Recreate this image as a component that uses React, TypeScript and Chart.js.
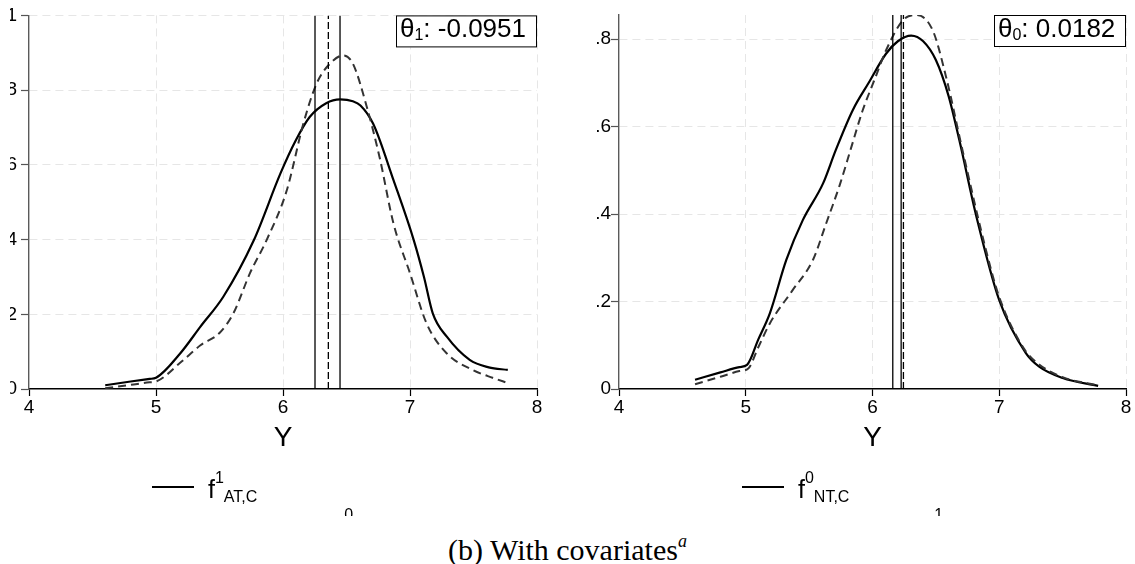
import React, { useEffect, useRef } from "react";
import { Chart, registerables } from "chart.js";

Chart.register(...registerables);
Chart.defaults.font.family = "'Liberation Sans', Arial, Helvetica, sans-serif";

// ---------- data ----------
const xTicks = [4, 5, 6, 7, 8];
const leftYTicks = [0, 0.2, 0.4, 0.6, 0.8, 1];
const rightYTicks = [0, 0.2, 0.4, 0.6, 0.8];
const leftYMax = 1;
const rightYMax = 0.855;

// left panel: solid f^1_{AT,C}, dashed comparison density
const leftSolidX = [4.6, 4.8, 4.95, 5.0, 5.19, 5.35, 5.53, 5.77, 5.98, 6.1, 6.21, 6.34, 6.45, 6.55, 6.61, 6.71, 6.87, 7.03, 7.11, 7.18, 7.29, 7.47, 7.62, 7.77];
const leftSolidY = [0.01, 0.02, 0.027, 0.03, 0.095, 0.167, 0.247, 0.398, 0.577, 0.665, 0.728, 0.765, 0.775, 0.77, 0.759, 0.71, 0.559, 0.398, 0.3, 0.202, 0.14, 0.078, 0.058, 0.051];
const leftDashX = [4.6, 4.8, 4.95, 5.0, 5.19, 5.35, 5.5, 5.61, 5.74, 5.87, 6.03, 6.16, 6.265, 6.37, 6.475, 6.55, 6.66, 6.76, 6.87, 7.0, 7.13, 7.29, 7.5, 7.65, 7.77];
const leftDashY = [0.002, 0.011, 0.018, 0.02, 0.07, 0.117, 0.15, 0.203, 0.31, 0.398, 0.532, 0.71, 0.818, 0.871, 0.893, 0.871, 0.755, 0.621, 0.443, 0.31, 0.176, 0.095, 0.05, 0.03, 0.016];
const leftVSolid = [6.252, 6.449];
const leftVDashed = [6.357];
const leftTheta = -0.0951;

// right panel: solid f^0_{NT,C}, dashed comparison density
const rightSolidX = [4.6, 4.8, 4.95, 5.01, 5.1, 5.19, 5.32, 5.45, 5.61, 5.71, 5.845, 5.97, 6.108, 6.2, 6.305, 6.4, 6.5, 6.6, 6.685, 6.82, 7.0, 7.21, 7.315, 7.5, 7.78];
const rightSolidY = [0.021, 0.038, 0.05, 0.055, 0.114, 0.173, 0.295, 0.386, 0.47, 0.546, 0.638, 0.7, 0.767, 0.795, 0.808, 0.795, 0.752, 0.67, 0.569, 0.394, 0.203, 0.082, 0.051, 0.025, 0.007];
const rightDashX = [4.6, 4.8, 4.95, 5.02, 5.1, 5.19, 5.37, 5.53, 5.635, 5.74, 5.83, 5.92, 6.02, 6.108, 6.24, 6.344, 6.475, 6.58, 6.71, 6.895, 7.0, 7.2, 7.32, 7.5, 7.78];
const rightDashY = [0.011, 0.028, 0.041, 0.047, 0.096, 0.15, 0.226, 0.295, 0.379, 0.465, 0.55, 0.635, 0.71, 0.775, 0.843, 0.855, 0.82, 0.714, 0.546, 0.318, 0.21, 0.09, 0.055, 0.027, 0.008];
const rightVSolid = [6.16, 6.226];
const rightVDashed = [6.244];
const rightTheta = 0.0182;

const xTitle = "Y";
const leftThetaSub = "1";
const rightThetaSub = "0";
const leftLegend = { sup: "1", sub: "AT,C" };
const leftLegend2 = { prefix: "reweighted f", sup: "0", sub: "AT,C" };
const rightLegend = { sup: "0", sub: "NT,C" };
const rightLegend2 = { prefix: "reweighted f", sup: "1", sub: "NT,C" };
const caption = "(b) With covariates";
const captionNote = "a";

// ---------- helpers ----------
const FONT = "'Liberation Sans', Arial, Helvetica, sans-serif";
const pts = (xs: number[], ys: number[]) => xs.map((x, i) => ({ x, y: ys[i] }));
const fmtY = (v: number) => (v === 0 ? "0" : v === 1 ? "1" : String(v).replace(/^0/, ""));

type PanelProps = {
  left: number;
  width: number;
  height: number;
  yAxisWidth: number;
  padRight: number;
  tickPad: number;
  solidX: number[];
  solidY: number[];
  dashX: number[];
  dashY: number[];
  vSolid: number[];
  vDashed: number[];
  yMax: number;
  yTicks: number[];
  theta: number;
  thetaSub: string;
  legend: { sup: string; sub: string };
  legend2: { prefix: string; sup: string; sub: string };
};

function Panel(p: PanelProps) {
  const ref = useRef<HTMLCanvasElement | null>(null);
  useEffect(() => {
    if (!ref.current) return;
    const vl = (x: number) => [{ x, y: 0 }, { x, y: p.yMax }];
    const overlay = {
      id: "overlay",
      afterDraw(chart: any) {
        const { ctx, chartArea: a } = chart;
        ctx.save();
        ctx.textAlign = "left";
        ctx.textBaseline = "alphabetic";
        ctx.setLineDash([]);
        // theta annotation box
        const big = `26px ${FONT}`;
        const small = `16px ${FONT}`;
        ctx.font = big;
        const w1 = ctx.measureText("θ").width;
        const rest = ": " + p.theta.toFixed(4);
        const w3 = ctx.measureText(rest).width;
        ctx.font = small;
        const w2 = ctx.measureText(p.thetaSub).width;
        const boxW = Math.round(w1 + w2 + w3 + 15);
        const boxH = 32;
        const bx = a.right - boxW;
        const by = a.top;
        ctx.fillStyle = "#fff";
        ctx.fillRect(bx, by, boxW, boxH);
        ctx.strokeStyle = "#000";
        ctx.lineWidth = 1;
        ctx.strokeRect(bx + 0.5, by + 0.5, boxW - 1, boxH - 1);
        ctx.fillStyle = "#000";
        let tx = bx + 4;
        const base = by + 22;
        ctx.font = big;
        ctx.fillText("θ", tx, base);
        tx += w1;
        ctx.font = small;
        ctx.fillText(p.thetaSub, tx, base + 3);
        tx += w2;
        ctx.font = big;
        ctx.fillText(rest, tx, base);

        // x axis title
        ctx.font = `28px ${FONT}`;
        ctx.textAlign = "center";
        ctx.fillText(xTitle, (a.left + a.right) / 2, a.bottom + 57);
        ctx.textAlign = "left";

        // legend
        const drawEntry = (x: number, baseline: number, prefix: string, sup: string, sub: string) => {
          const fBig = `25px ${FONT}`;
          const fSmall = `16px ${FONT}`;
          ctx.font = fBig;
          ctx.fillText(prefix, x, baseline);
          let cx = x + ctx.measureText(prefix).width;
          ctx.font = fSmall;
          ctx.fillText(sup, cx, baseline - 15);
          cx += ctx.measureText(sup).width;
          ctx.fillText(sub, cx, baseline + 4);
        };
        const lx = a.left + 123;
        const ly = 487;
        ctx.strokeStyle = "#000";
        ctx.lineWidth = 2;
        ctx.beginPath();
        ctx.moveTo(lx, ly);
        ctx.lineTo(lx + 42, ly);
        ctx.stroke();
        drawEntry(lx + 56, 498, "f", p.legend.sup, p.legend.sub);
        // second legend row (cut by the picture's lower edge)
        ctx.strokeStyle = "#333";
        ctx.setLineDash([8, 5]);
        ctx.beginPath();
        ctx.moveTo(lx, ly + 36);
        ctx.lineTo(lx + 42, ly + 36);
        ctx.stroke();
        ctx.setLineDash([]);
        drawEntry(lx + 56, 535, p.legend2.prefix, p.legend2.sup, p.legend2.sub);
        ctx.restore();
      },
    };
    const gridColor = (c: any) =>
      c.tick && c.tick.value === (c.scale.axis === "x" ? 4 : 0) ? "rgba(0,0,0,0)" : "#e6e6e6";
    const chart = new Chart(ref.current, {
      type: "scatter",
      data: {
        datasets: [
          ...p.vSolid.map((x) => ({
            data: vl(x),
            borderColor: "#000",
            borderWidth: 1.3,
            showLine: true,
            pointRadius: 0,
            tension: 0,
          })),
          ...p.vDashed.map((x) => ({
            data: vl(x),
            borderColor: "#000",
            borderWidth: 1.3,
            borderDash: [7, 3],
            showLine: true,
            pointRadius: 0,
            tension: 0,
          })),
          {
            data: pts(p.dashX, p.dashY),
            borderColor: "#333",
            borderWidth: 2,
            borderDash: [8, 5],
            showLine: true,
            pointRadius: 0,
            cubicInterpolationMode: "monotone",
          },
          {
            data: pts(p.solidX, p.solidY),
            borderColor: "#000",
            borderWidth: 2.2,
            showLine: true,
            pointRadius: 0,
            cubicInterpolationMode: "monotone",
          },
        ] as any,
      },
      options: {
        animation: false,
        responsive: false,
        devicePixelRatio: 1,
        layout: { padding: { left: 0, right: p.padRight, top: 15, bottom: p.height - 389 - 30 } },
        plugins: { legend: { display: false }, tooltip: { enabled: false } },
        scales: {
          x: {
            type: "linear",
            min: 4,
            max: 8,
            afterBuildTicks: (s: any) => {
              s.ticks = xTicks.map((v) => ({ value: v }));
            },
            afterFit: (s: any) => {
              s.height = 30;
            },
            grid: { color: gridColor, lineWidth: 1, tickLength: 7, tickColor: "#000", tickWidth: 1.2 },
            border: { color: "#000", width: 1.4, dash: [8, 5] },
            ticks: { color: "#000", font: { size: 19 }, padding: 0, maxRotation: 0, callback: (v: any) => String(v) },
          },
          y: {
            type: "linear",
            min: 0,
            max: p.yMax,
            afterBuildTicks: (s: any) => {
              s.ticks = p.yTicks.map((v) => ({ value: v }));
            },
            afterFit: (s: any) => {
              s.width = p.yAxisWidth;
            },
            grid: { color: gridColor, lineWidth: 1, tickLength: 8, tickColor: "#555", tickWidth: 1.2 },
            border: { color: "#5a5a5a", width: 1.4, dash: [8, 5] },
            ticks: { color: "#000", font: { size: 19 }, padding: p.tickPad, callback: (v: any) => fmtY(v) },
          },
        },
      } as any,
      plugins: [overlay],
    });
    return () => chart.destroy();
  }, []);
  return (
    <canvas
      ref={ref}
      width={p.width}
      height={p.height}
      style={{ position: "absolute", left: p.left, top: 0, width: p.width, height: p.height }}
    />
  );
}

export default function App() {
  return (
    <div
      style={{
        position: "fixed",
        left: 0,
        top: 0,
        width: 1135,
        height: 564,
        background: "#fff",
        overflow: "hidden",
      }}
    >
      <Panel
        left={10}
        width={550}
        height={516}
        yAxisWidth={19}
        padRight={23}
        tickPad={4}
        solidX={leftSolidX}
        solidY={leftSolidY}
        dashX={leftDashX}
        dashY={leftDashY}
        vSolid={leftVSolid}
        vDashed={leftVDashed}
        yMax={leftYMax}
        yTicks={leftYTicks}
        theta={leftTheta}
        thetaSub={leftThetaSub}
        legend={leftLegend}
        legend2={leftLegend2}
      />
      <Panel
        left={560}
        width={575}
        height={516}
        yAxisWidth={59}
        padRight={9}
        tickPad={0}
        solidX={rightSolidX}
        solidY={rightSolidY}
        dashX={rightDashX}
        dashY={rightDashY}
        vSolid={rightVSolid}
        vDashed={rightVDashed}
        yMax={rightYMax}
        yTicks={rightYTicks}
        theta={rightTheta}
        thetaSub={rightThetaSub}
        legend={rightLegend}
        legend2={rightLegend2}
      />
      <div
        style={{
          position: "absolute",
          left: 0,
          top: 535,
          width: 1135,
          textAlign: "center",
          fontFamily: "'Liberation Serif', 'Times New Roman', serif",
          fontSize: 30,
          lineHeight: "30px",
          color: "#000",
          whiteSpace: "nowrap",
        }}
      >
        {caption}
        <span style={{ fontSize: 18, fontStyle: "italic", position: "relative", top: -13 }}>{captionNote}</span>
      </div>
    </div>
  );
}
